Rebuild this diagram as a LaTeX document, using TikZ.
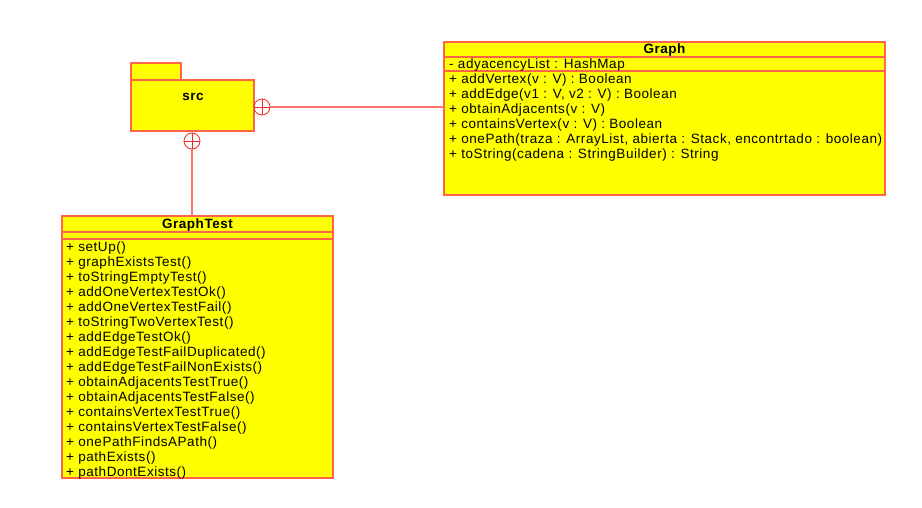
\documentclass[tikz,border=0pt]{standalone}
\usepackage{fontspec}
\setmainfont{Liberation Sans}[LetterSpace=4.0]
\begin{document}
\begin{tikzpicture}[x=1pt,y=-1pt,
  box/.style={draw=boxline,fill=boxfill,line width=1.2pt},
  sep/.style={draw=boxline,line width=1.2pt},
  conn/.style={draw=connline,line width=1.2pt},
  nest/.style={circle,draw=nestred,line width=0.8pt,minimum size=16pt,inner sep=0pt},
  txt/.style={anchor=west,inner sep=0pt,font=\fontsize{13.5}{15}\selectfont},
  ttl/.style={inner sep=0pt,font=\bfseries\fontsize{13.5}{15}\selectfont}]
\definecolor{boxline}{RGB}{255,100,70}
\definecolor{boxfill}{RGB}{255,255,0}
\definecolor{connline}{RGB}{255,115,115}
\definecolor{nestred}{RGB}{240,40,40}
\useasboundingbox (0,0) rectangle (922,507);
% package src
\draw[box] (131,63) rectangle (181,80);
\draw[box] (131,80) rectangle (254,131);
\node[ttl] (src) at (193,97) {src};
\coordinate (pkgR) at (254,107);
\coordinate (pkgB) at (192,131);
\node[nest] (n1) at (262,107) {};
\draw[nestred,line width=0.8pt] (n1.north) -- (n1.south) (n1.west) -- (n1.east);
\node[nest] (n2) at (192,141) {};
\draw[nestred,line width=0.8pt] (n2.north) -- (n2.south) (n2.west) -- (n2.east);
% Graph class
\draw[box] (444,42) rectangle (885,195);
\draw[sep] (444,57) -- (885,57);
\draw[sep] (444,71) -- (885,71);
\node[ttl] (gtitle) at (664.5,50) {Graph};
\node[txt] (gattr) at (449,65) {- adyacencyList : HashMap};
\node[txt] (gm1) at (449,80) {+ addVertex(v : V) : Boolean};
\node[txt] (gm2) at (449,95) {+ addEdge(v1 : V, v2 : V) : Boolean};
\node[txt] (gm3) at (449,110) {+ obtainAdjacents(v : V)};
\node[txt] (gm4) at (449,125) {+ containsVertex(v : V) : Boolean};
\node[txt] (gm5) at (449,140) {+ onePath(traza : ArrayList, abierta : Stack, encontrtado : boolean)};
\node[txt] (gm6) at (449,155) {+ toString(cadena : StringBuilder) : String};
\coordinate (graphL) at (444,107);
% GraphTest class
\draw[box] (62,216) rectangle (333,478);
\draw[sep] (62,232) -- (333,232);
\draw[sep] (62,239) -- (333,239);
\node[ttl] (ttitle) at (197.5,225) {GraphTest};
\coordinate (testT) at (192,216);
\foreach \t [count=\i from 0] in {setUp(),graphExistsTest(),toStringEmptyTest(),addOneVertexTestOk(),addOneVertexTestFail(),toStringTwoVertexTest(),addEdgeTestOk(),addEdgeTestFailDuplicated(),addEdgeTestFailNonExists(),obtainAdjacentsTestTrue(),obtainAdjacentsTestFalse(),containsVertexTestTrue(),containsVertexTestFalse(),onePathFindsAPath(),pathExists(),pathDontExists()}
  \node[txt] (tm\i) at (66,{248+15*\i}) {+ \t};
% connectors
\draw[conn] (n1.east) -- (graphL);
\draw[conn] (n2.south) -- (testT);
\end{tikzpicture}
\end{document}
